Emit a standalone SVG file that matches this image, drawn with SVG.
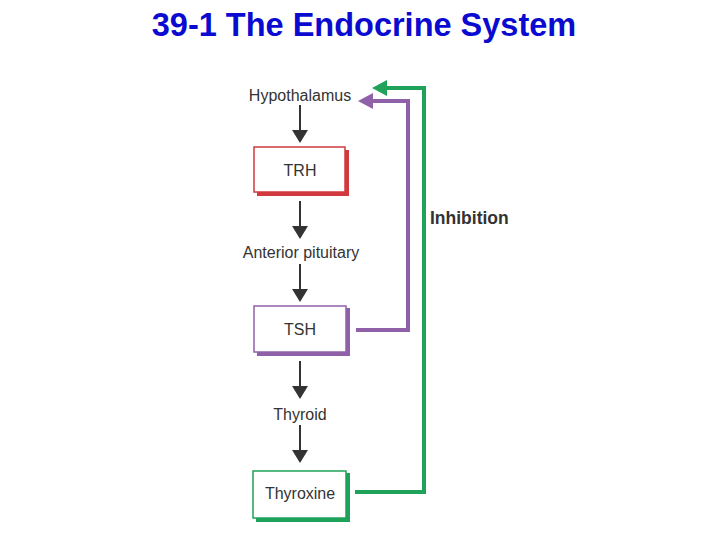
<svg xmlns="http://www.w3.org/2000/svg" width="728" height="546" viewBox="0 0 728 546">
<style>
.t{font-family:"Liberation Sans",Arial,sans-serif;font-size:16px;fill:#333;text-anchor:middle}
.title{font-family:"Liberation Sans",Arial,sans-serif;font-size:32.5px;font-weight:bold;fill:#0a0ad0;text-anchor:middle}
.bx{fill:#fff;stroke-width:1.5}
.ar{stroke:#333;stroke-width:2;fill:none}
</style>
<rect width="728" height="546" fill="#fff"/>
<text class="title" x="364" y="36">39-1 The Endocrine System</text>
<g id="hypothalamus"><text class="t" x="300" y="101">Hypothalamus</text></g>
<g id="trh">
<path d="M257,194H347V150" fill="none" stroke="#d03a3e" stroke-width="4"/>
<rect class="bx" x="254" y="147" width="91" height="45" stroke="#d03a3e"/>
<text class="t" x="300" y="176">TRH</text></g>
<g id="anterior"><text class="t" x="301" y="258">Anterior pituitary</text></g>
<g id="tsh">
<path d="M257,354H348V308" fill="none" stroke="#9060a8" stroke-width="4"/>
<rect class="bx" x="254" y="306" width="92" height="46" stroke="#9060a8"/>
<text class="t" x="300" y="335">TSH</text></g>
<g id="thyroid"><text class="t" x="300" y="420">Thyroid</text></g>
<g id="thyroxine">
<path d="M256,520H348V473" fill="none" stroke="#1fa25a" stroke-width="4"/>
<rect class="bx" x="253" y="471" width="93" height="47" stroke="#1fa25a"/>
<text class="t" x="300" y="499">Thyroxine</text></g>
<g id="inhibition"><text x="430" y="224" style="font-family:'Liberation Sans',Arial,sans-serif;font-size:17.5px;font-weight:bold;fill:#333">Inhibition</text></g>
<g id="connectors">
<g fill="#333">
<line class="ar" x1="300" y1="105" x2="300" y2="132"/><path d="M292,130L308,130L300,143z"/>
<line class="ar" x1="300" y1="201" x2="300" y2="228"/><path d="M292,226L308,226L300,239z"/>
<line class="ar" x1="300" y1="264" x2="300" y2="291"/><path d="M292,289L308,289L300,302z"/>
<line class="ar" x1="300" y1="361" x2="300" y2="388"/><path d="M292,386L308,386L300,399z"/>
<line class="ar" x1="300" y1="425" x2="300" y2="452"/><path d="M292,450L308,450L300,463z"/>
</g>
<path d="M356,330H408V101H368" fill="none" stroke="#9060a8" stroke-width="4"/>
<path d="M358,101L373,93V109z" fill="#9060a8"/>
<path d="M355,492H424V88H384" fill="none" stroke="#1fa25a" stroke-width="4"/>
<path d="M372,88L387,80V96z" fill="#1fa25a"/>
</g>
</svg>
